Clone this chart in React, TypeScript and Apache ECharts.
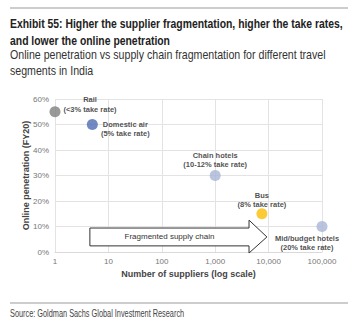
import React, { useEffect, useRef } from "react";
import * as echarts from "echarts";

const categories = ["Rail", "Domestic air", "Chain hotels", "Bus", "Mid/budget hotels"];
const suppliers = [1, 5, 1000, 7500, 100000];
const penetration = [55, 50, 30, 15, 10];
const takeRates = ["(<3% take rate)", "(5% take rate)", "(10-12% take rate)", "(8% take rate)", "(20% take rate)"];
const pointColors = ["#7f7f7f", "#4f6db2", "#a9b5d6", "#fbbc05", "#a9b5d6"];
const labelOffsets = [[35, -7.5], [33, 4.5], [0, -15.5], [0, -14], [-15, 16.7]];
const xTicks = [1, 10, 100, 1000, 10000, 100000];
const yTicks = [0, 10, 20, 30, 40, 50, 60];
// arrow annotation in data space: [tailX, neckX, tipX], [bodyLow, bodyHigh, headLow, headHigh]
const arrowX = [4.5, 4300, 9300];
const arrowY = [2.4, 9.4, -0.4, 12.5];
const arrowText = "Fragmented supply chain";

const SANS = "'Liberation Sans', Arial, sans-serif";

export default function App() {
  const ref = useRef<HTMLDivElement>(null);
  useEffect(() => {
    if (!ref.current) return;
    const chart = echarts.init(ref.current, null, { renderer: "svg" });
    const SYM = 11;
    const scatterData = categories.map((c, i) => ({
      name: c,
      value: [suppliers[i], penetration[i]],
      itemStyle: { color: pointColors[i] },
      label: {
        show: true,
        formatter: c + "\n" + takeRates[i],
        position: [SYM / 2 + labelOffsets[i][0], SYM / 2 + labelOffsets[i][1]],
        align: "center",
        verticalAlign: "middle",
        fontFamily: SANS,
        fontWeight: "bold",
        fontSize: 7.5,
        lineHeight: 9.5,
        color: "#222",
      },
    }));
    chart.setOption({
      animation: false,
      grid: { left: 55, right: 33, top: 99, bottom: 73 },
      graphic: [
        { type: "line", shape: { x1: 10, y1: 8, x2: 348, y2: 8 }, style: { stroke: "#bdbdbd", lineWidth: 1.5 } },
        { type: "text", x: 10, y: 15, scaleX: 0.8, style: { text: "Exhibit 55: Higher the supplier fragmentation, higher the take rates,\nand lower the online penetration", font: "bold 13px " + SANS, fill: "#222", lineHeight: 16.5 } },
        { type: "text", x: 10, y: 45.5, scaleX: 0.85, style: { text: "Online penetration vs supply chain fragmentation for different travel\nsegments in India", font: "12.5px " + SANS, fill: "#333", lineHeight: 16.5 } },
        { type: "line", shape: { x1: 10, y1: 303, x2: 348, y2: 303 }, style: { stroke: "#bdbdbd", lineWidth: 1.5 } },
        { type: "text", x: 10, y: 308, scaleX: 0.7, style: { text: "Source: Goldman Sachs Global Investment Research", font: "10.5px " + SANS, fill: "#444" } },
      ],
      xAxis: {
        type: "log",
        logBase: 10,
        min: xTicks[0],
        max: xTicks[xTicks.length - 1],
        name: "Number of suppliers (log scale)",
        nameLocation: "middle",
        nameGap: 17,
        nameMoveOverlap: false,
        nameTextStyle: { fontFamily: SANS, fontWeight: "bold", fontSize: 9, color: "#444", verticalAlign: "top" },
        axisLine: { show: true, lineStyle: { color: "#d9d9d9" } },
        axisTick: { show: false },
        minorTick: { show: false },
        splitLine: { show: true, lineStyle: { color: "#e3e3e3" } },
        axisLabel: {
          fontFamily: SANS,
          fontSize: 8,
          color: "#777",
          margin: 5,
          formatter: (v: number) => Math.round(v).toLocaleString("en-US"),
        },
      },
      yAxis: {
        type: "value",
        min: yTicks[0],
        max: yTicks[yTicks.length - 1],
        interval: 10,
        name: "Online penetration (FY20)",
        nameLocation: "middle",
        nameGap: 25,
        nameMoveOverlap: false,
        nameTextStyle: { fontFamily: SANS, fontWeight: "bold", fontSize: 9, color: "#444" },
        axisLine: { show: false },
        axisTick: { show: false },
        splitLine: { show: true, lineStyle: { color: "#e3e3e3" } },
        axisLabel: { fontFamily: SANS, fontSize: 8, color: "#777", margin: 6, formatter: "{value}%" },
      },
      series: [
        {
          type: "custom",
          clip: false,
          silent: true,
          z: 1,
          data: [[arrowX[0], arrowX[1], arrowX[2], arrowY[0], arrowY[1], arrowY[2], arrowY[3]]],
          renderItem: (params: any, api: any) => {
            const tail = api.value(0), neck = api.value(1), tip = api.value(2);
            const bl = api.value(3), bh = api.value(4), hl = api.value(5), hh = api.value(6);
            const mid = (bl + bh) / 2;
            const pts = [
              api.coord([tail, bh]),
              api.coord([neck, bh]),
              api.coord([neck, hh]),
              api.coord([tip, mid]),
              api.coord([neck, hl]),
              api.coord([neck, bl]),
              api.coord([tail, bl]),
            ];
            const c1 = api.coord([tail, mid]);
            const c2 = api.coord([neck, mid]);
            return {
              type: "group",
              children: [
                { type: "polygon", shape: { points: pts }, style: { fill: "#fff", stroke: "#333", lineWidth: 1 } },
                {
                  type: "text",
                  style: {
                    text: arrowText,
                    x: (c1[0] + c2[0]) / 2,
                    y: c1[1],
                    align: "center",
                    verticalAlign: "middle",
                    font: "8px " + SANS,
                    fill: "#333",
                  },
                },
              ],
            };
          },
        },
        {
          type: "scatter",
          symbolSize: SYM,
          z: 3,
          data: scatterData,
        },
      ],
    });
    return () => chart.dispose();
  }, []);
  return <div ref={ref} style={{ position: "fixed", left: 0, top: 0, width: 355, height: 325, background: "#fff" }} />;
}
